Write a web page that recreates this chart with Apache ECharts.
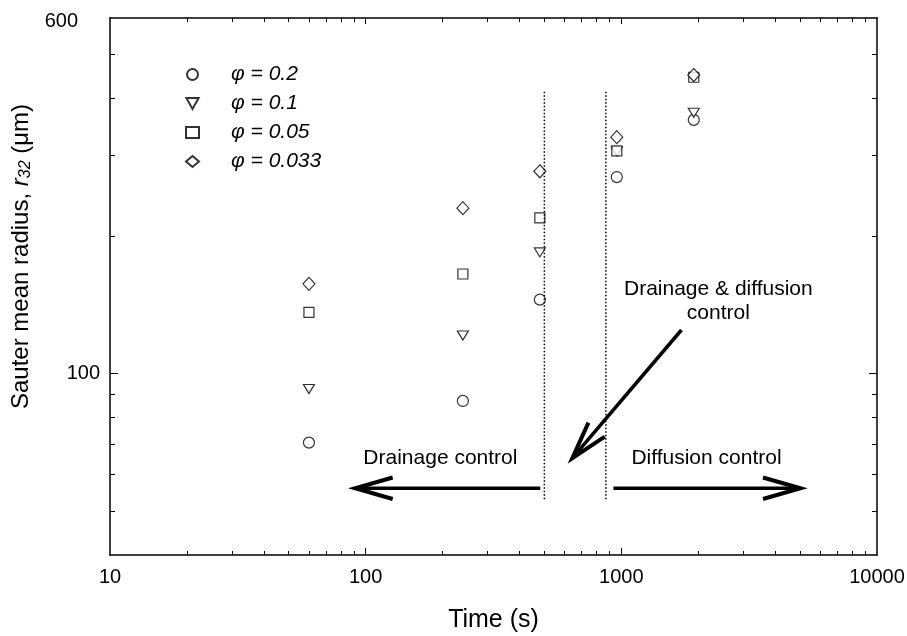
<!DOCTYPE html>
<html>
<head>
<meta charset="utf-8">
<script src="https://cdn.jsdelivr.net/npm/echarts@6/dist/echarts.min.js"></script>
<style>
  html, body { margin: 0; padding: 0; background: #fff; }
  #main { width: 907px; height: 636px; }
</style>
</head>
<body>
<div id="main"></div>
<script>
// time (s) of each measurement
var times = [60, 240, 480, 960, 1920];
// Sauter mean radius r32 (um) per volume fraction
var r32_phi02 = [70.5, 87, 145, 269, 359];
var r32_phi01 = [92.4, 121, 184, 306, 372];
var r32_phi005 = [136, 165, 219, 307, 445];
var r32_phi0033 = [157, 230, 277, 329, 450];
var seriesNames = ['\u03c6 = 0.2', '\u03c6 = 0.1', '\u03c6 = 0.05', '\u03c6 = 0.033'];

// regime boundaries (dotted lines)
var boundaryTimes = [500, 870];
var boundarySpan = [53, 417];

// tick positions
var xLabels = [10, 100, 1000, 10000];
var xMajor = [100, 1000];
var xMinor = [20, 30, 40, 50, 60, 70, 80, 90, 200, 300, 400, 500, 600, 700, 800, 900,
  2000, 3000, 4000, 5000, 6000, 7000, 8000, 9000];
var yLabels = [100, 600];
var yMajor = [100];
var yMinor = [50, 60, 70, 80, 90, 200, 300, 400, 500];

var FONT = '"Liberation Sans", Arial, sans-serif';
var black = '#000';

function zip(xs, ys) {
  return xs.map(function (x, i) { return [x, ys[i]]; });
}

function xAxisCfg(pos, ticks, len, withLine) {
  return {
    type: 'log', logBase: 10, min: 10, max: 10000, position: pos,
    axisLine: { show: withLine, lineStyle: { color: black, width: 1.5 } },
    axisTick: { show: true, inside: true, length: len, customValues: ticks, lineStyle: { color: black, width: 1 } },
    axisLabel: { show: false },
    splitLine: { show: false }
  };
}
function yAxisCfg(pos, ticks, len, withLine) {
  return {
    type: 'log', logBase: 10, min: 40, max: 600, position: pos,
    axisLine: { show: withLine, lineStyle: { color: black, width: 1.5 } },
    axisTick: { show: true, inside: true, length: len, customValues: ticks, lineStyle: { color: black, width: 1 } },
    axisLabel: { show: false },
    splitLine: { show: false }
  };
}

var xMain = xAxisCfg('bottom', xMinor, 4, true);
xMain.axisLabel = {
  show: true, customValues: xLabels, margin: 12,
  color: black, fontSize: 20, fontFamily: FONT,
  formatter: function (v) { return String(Math.round(v)); }
};
xMain.name = 'Time (s)';
xMain.nameLocation = 'middle';
xMain.nameGap = 53;
xMain.nameTextStyle = { color: black, fontSize: 25, fontFamily: FONT };

var yMain = yAxisCfg('left', yMinor, 5, true);
yMain.axisLabel = {
  show: true, customValues: yLabels, margin: 10,
  color: black, fontSize: 20, fontFamily: FONT,
  formatter: function (v) {
    v = Math.round(v);
    return v >= 600 ? '{top|' + v + '}' : String(v);
  },
  rich: { top: { fontSize: 20, fontFamily: FONT, color: black, padding: [6, 22, 0, 0] } }
};
yMain.name = 'Sauter mean radius, {i|r}{sub|32} (\u03bcm)';
yMain.nameLocation = 'middle';
yMain.nameGap = 64;
yMain.nameTextStyle = {
  color: black, fontSize: 24, fontFamily: FONT, padding: [0, 0, 0, 60],
  rich: {
    i: { fontSize: 24, fontFamily: FONT, fontStyle: 'italic', color: black },
    sub: { fontSize: 16, fontFamily: FONT, fontStyle: 'italic', color: black, verticalAlign: 'bottom', padding: [9, 0, 0, 0] }
  }
};

var markerStyle = { color: '#fff', borderColor: black, borderWidth: 1.2 };

var option = {
  backgroundColor: '#fff',
  animation: false,
  grid: { left: 110, right: 30, top: 18, bottom: 81, outerBoundsMode: 'none' },
  legend: {
    orient: 'vertical', left: 180, top: 59,
    itemWidth: 13, itemHeight: 11, itemGap: 8,
    data: seriesNames,
    formatter: function (name) { return '{gap|}' + name; },
    textStyle: {
      color: black, fontSize: 21, fontFamily: FONT, fontStyle: 'italic', lineHeight: 21,
      rich: { gap: { width: 27 } }
    }
  },
  xAxis: [
    xMain,
    xAxisCfg('bottom', xMajor, 7, false),
    xAxisCfg('top', xMinor, 4, true),
    xAxisCfg('top', xMajor, 6, false)
  ],
  yAxis: [
    yMain,
    yAxisCfg('left', yMajor, 8, false),
    yAxisCfg('right', yMinor, 5, true),
    yAxisCfg('right', yMajor, 8, false)
  ],
  series: [
    { name: seriesNames[0], type: 'scatter', symbol: 'circle', symbolSize: 11,
      itemStyle: markerStyle, data: zip(times, r32_phi02) },
    { name: seriesNames[1], type: 'scatter', symbol: 'path://M0,0L10,0L5,9Z', symbolSize: [11, 9],
      itemStyle: markerStyle, data: zip(times, r32_phi01) },
    { name: seriesNames[2], type: 'scatter', symbol: 'rect', symbolSize: 10,
      itemStyle: markerStyle, data: zip(times, r32_phi005) },
    { name: seriesNames[3], type: 'scatter', symbol: 'diamond', symbolSize: [12, 13],
      itemStyle: markerStyle, data: zip(times, r32_phi0033) }
  ]
};

boundaryTimes.forEach(function (t) {
  option.series.push({
    type: 'line', symbol: 'none', silent: true,
    lineStyle: { color: black, width: 1.5, type: [1.5, 2] },
    data: boundarySpan.map(function (v) { return [t, v]; })
  });
});

var chart = echarts.init(document.getElementById('main'));
chart.setOption(option);

// annotations (arrows + labels) placed in data space
var arrows = [
  { from: [482, 56], to: [91, 56] },
  { from: [931, 56], to: [5020, 56] },
  { from: [1718, 124.4], to: [643, 65.2] }
];
var notes = [
  { text: 'Drainage control', at: [196, 65.2] },
  { text: 'Diffusion control', at: [2153, 65.2] },
  { text: 'Drainage & diffusion\ncontrol', at: [2396, 144] }
];

function toPx(p) { return chart.convertToPixel({ seriesIndex: 0 }, p); }

var graphics = [];
arrows.forEach(function (a) {
  var p0 = toPx(a.from), p1 = toPx(a.to);
  var dx = p0[0] - p1[0], dy = p0[1] - p1[1];
  var d = Math.sqrt(dx * dx + dy * dy);
  var ux = dx / d, uy = dy / d;
  var ang = 16 * Math.PI / 180, L = 39;
  function arm(s) {
    var c = Math.cos(s * ang), sn = Math.sin(s * ang);
    return [p1[0] + L * (ux * c - uy * sn), p1[1] + L * (ux * sn + uy * c)];
  }
  graphics.push({
    type: 'line', silent: true,
    shape: { x1: p0[0], y1: p0[1], x2: p1[0] + ux * 2, y2: p1[1] + uy * 2 },
    style: { stroke: black, lineWidth: 3.5 }
  });
  graphics.push({
    type: 'polyline', silent: true,
    shape: { points: [arm(1), p1, arm(-1)] },
    style: { stroke: black, lineWidth: 4, fill: null, lineJoin: 'miter' }
  });
});
notes.forEach(function (n) {
  var p = toPx(n.at);
  graphics.push({
    type: 'text', silent: true,
    style: {
      text: n.text, x: p[0], y: p[1], align: 'center', verticalAlign: 'middle',
      font: '21px ' + FONT, fill: black, lineHeight: 24
    }
  });
});
chart.setOption({ graphic: graphics });
</script>
</body>
</html>
